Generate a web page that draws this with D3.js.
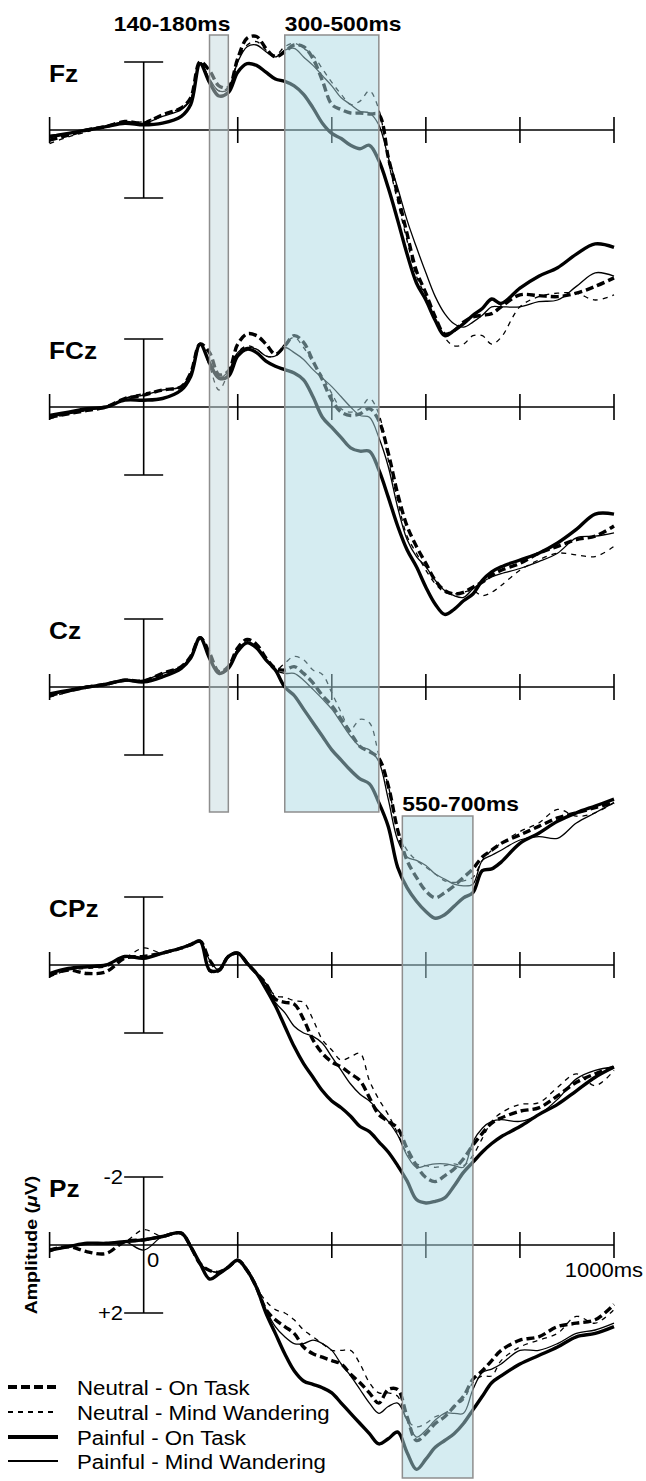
<!doctype html>
<html>
<head>
<meta charset="utf-8">
<style>
  body { margin: 0; background: #fff; }
  svg { display: block; font-family: "Liberation Sans", Arial, Helvetica, sans-serif; }
</style>
<script src="https://d3js.org/d3.v7.min.js"></script>
</head>
<body>
<svg width="646" height="1481"></svg>
<script>
// sample times (ms)
var times = [-200,-160,-120,-80,-40,0,40,80,100,120,140,160,180,200,220,240,260,280,300,320,340,360,380,400,420,440,460,480,500,520,540,560,580,600,620,640,660,680,700,720,740,760,800,840,880,920,960,1000];

var conditions = ["Neutral - On Task", "Neutral - Mind Wandering", "Painful - On Task", "Painful - Mind Wandering"];
var electrodes = ["Fz", "FCz", "Cz", "CPz", "Pz"];

// amplitudes in microvolts, one row per condition (same order as conditions)
var fz = [
  [0.3,0.15,0,-0.1,-0.25,-0.2,-0.45,-0.65,-0.95,-2.0, -1.75,-1.3,-1.25,-2.1,-2.7,-2.75,-2.4,-2.15,-2.3,-2.5, -2.45,-2.1,-1.45,-0.75,-0.6,-0.5,-0.5,-0.47,-0.45,0.8, 1.9,3.05,4.15,4.8,5.5,6.0,5.9,5.65,5.5,5.45, 5.4,5.2,4.85,4.87,4.9,4.8,4.6,4.35],
  [0.4,0.2,0.05,-0.1,-0.2,-0.25,-0.45,-0.65,-0.9,-2.0, -1.5,-1.15,-1.25,-2.05,-2.5,-2.6,-2.35,-2.2,-2.45,-2.55, -2.4,-2.2,-1.8,-1.4,-1.05,-0.75,-0.85,-1.15,-0.6,0.9, 2.1,3.25,4.3,4.9,5.5,6.1,6.35,6.3,6.05,6.05, 6.3,6.1,5.2,4.9,4.8,4.8,5.0,4.85],
  [0.2,0.1,0,-0.1,-0.2,-0.15,-0.2,-0.4,-0.75,-1.95, -1.4,-1.0,-1.1,-1.7,-1.95,-1.9,-1.7,-1.5,-1.43,-1.3, -1.05,-0.65,-0.2,0.1,0.25,0.45,0.55,0.45,0.9,1.7, 2.65,3.65,4.5,5.0,5.6,6.05,5.9,5.7,5.45,5.25, 4.97,5.1,4.65,4.3,4.05,3.65,3.35,3.45],
  [0.15,0.1,0,-0.1,-0.25,-0.2,-0.4,-0.6,-0.9,-1.95, -1.5,-1.15,-1.2,-2.0,-2.45,-2.5,-2.3,-2.15,-2.35,-2.4, -2.15,-1.9,-1.6,-1.3,-0.95,-0.75,-0.55,-0.5,-0.15,0.8, 1.7,2.65,3.45,4.2,4.9,5.4,5.7,5.8,5.65,5.45, 5.2,5.2,5.2,5.05,5.0,4.6,4.2,4.3]
];
var fcz = [
  [0.3,0.2,0.1,0,-0.25,-0.35,-0.5,-0.6,-1.0,-1.85, -1.6,-0.95,-1.05,-1.85,-2.15,-2.1,-1.85,-1.55,-1.8,-2.1, -1.9,-1.35,-0.8,-0.2,0.15,0.25,0.2,0.05,0.4,1.35, 2.55,3.5,4.1,4.6,5.1,5.4,5.5,5.45,5.3,5.15, 4.95,4.8,4.6,4.3,4.1,3.9,3.8,3.5],
  [0.35,0.2,0.1,0,-0.25,-0.4,-0.5,-0.6,-1.0,-1.85, -1.2,-0.5,-1.0,-1.6,-1.8,-1.7,-1.5,-1.5,-1.85,-2.05, -1.75,-1.3,-0.9,-0.4,0.05,0.15,0.05,-0.25,0.2,1.55, 2.75,3.8,4.3,4.8,5.2,5.45,5.5,5.45,5.4,5.55, 5.45,5.25,4.8,4.5,4.3,4.35,4.4,4.1],
  [0.25,0.15,0.05,0,-0.2,-0.2,-0.25,-0.5,-0.9,-1.85, -1.3,-0.85,-0.9,-1.5,-1.7,-1.6,-1.35,-1.2,-1.1,-1.0, -0.8,-0.3,0.3,0.6,0.9,1.2,1.3,1.3,1.85,2.65, 3.5,4.2,4.7,5.3,5.8,6.1,5.95,5.7,5.5,5.1, 4.85,4.7,4.5,4.3,4.0,3.6,3.15,3.15],
  [0.3,0.2,0.1,0,-0.25,-0.35,-0.5,-0.6,-1.0,-1.85, -1.3,-0.85,-1.05,-1.6,-1.75,-1.7,-1.5,-1.5,-1.75,-1.6, -1.4,-1.1,-0.85,-0.6,-0.3,0,0.25,0.3,0.9,1.75, 2.95,3.9,4.4,4.7,5.1,5.4,5.55,5.6,5.35,5.15, 5.0,4.9,4.75,4.55,4.3,3.85,3.8,3.7]
];
var cz = [
  [0.25,0.12,0,-0.08,-0.2,-0.18,-0.4,-0.6,-0.9,-1.45, -1.0,-0.45,-0.6,-1.15,-1.4,-1.25,-0.85,-0.55,-0.5,-0.6, -0.4,-0.12,0.25,0.55,0.95,1.35,1.75,1.9,2.1,2.9, 4.2,5.1,5.6,6.0,6.2,6.05,5.85,5.6,5.35,5.0, 4.8,4.6,4.35,4.1,3.85,3.7,3.55,3.4],
  [0.3,0.15,0,-0.08,-0.2,-0.2,-0.4,-0.6,-0.9,-1.45, -0.9,-0.4,-0.6,-1.1,-1.3,-1.15,-0.8,-0.5,-0.7,-0.9, -0.8,-0.5,-0.37,0.17,0.75,1.25,0.95,1.05,2.0,2.9, 4.2,4.8,5.1,5.3,5.5,5.7,5.75,5.7,5.6,5.1, 4.8,4.6,4.25,4.0,3.6,3.8,3.7,3.4],
  [0.2,0.1,0,-0.08,-0.2,-0.15,-0.3,-0.55,-0.85,-1.45, -0.85,-0.4,-0.55,-1.05,-1.3,-1.15,-0.8,-0.5,0,0.25, 0.65,1.05,1.45,1.85,2.15,2.45,2.7,2.85,3.4,4.1, 5.3,5.9,6.3,6.6,6.8,6.7,6.45,6.2,6.05,5.4, 5.35,5.15,4.6,4.3,3.95,3.7,3.5,3.3],
  [0.25,0.1,0,-0.08,-0.2,-0.2,-0.4,-0.6,-0.9,-1.45, -0.9,-0.42,-0.6,-1.1,-1.3,-1.15,-0.8,-0.5,-0.4,-0.4, -0.2,0.07,0.35,0.65,1.05,1.45,1.75,1.85,2.2,3.3, 4.5,5.0,5.1,5.25,5.5,5.65,5.8,5.85,5.8,5.1, 4.95,4.8,4.5,4.4,4.45,4.0,3.7,3.4]
];
var cpz = [
  [0.3,0.15,0.25,0.2,-0.2,-0.25,-0.35,-0.5,-0.6,-0.7, -0.15,0.15,-0.25,-0.35,-0.05,0.25,0.55,1.0,1.1,1.15, 1.6,2.2,2.6,2.85,3.0,3.2,3.4,3.9,4.4,4.6, 4.8,5.4,5.9,6.25,6.37,6.2,6.0,5.7,5.3,4.95, 4.65,4.5,4.3,4.2,3.85,3.45,3.2,3.0],
  [0.35,0.15,0.1,0.05,-0.2,-0.5,-0.35,-0.5,-0.6,-0.7, 0.2,0.2,-0.25,-0.35,-0.05,0.25,0.55,0.9,0.95,1.05, 1.1,1.6,2.2,2.5,2.8,2.7,2.6,3.4,3.95,4.4, 4.95,5.55,5.85,5.9,5.95,5.9,5.85,5.9,5.6,5.1, 4.6,4.35,4.1,4.05,3.6,3.2,3.55,3.1],
  [0.25,0.1,0.05,0,-0.25,-0.2,-0.35,-0.5,-0.6,-0.7, 0.15,0.15,-0.25,-0.35,-0.05,0.25,0.7,1.2,1.8,2.4, 2.9,3.3,3.7,4.0,4.2,4.45,4.75,4.9,5.2,5.5, 5.9,6.35,6.9,7.0,6.95,6.85,6.5,6.1,5.8,5.5, 5.25,5.05,4.75,4.4,4.1,3.7,3.3,3.0],
  [0.25,0.1,0.05,0,-0.25,-0.2,-0.35,-0.5,-0.6,-0.7, -0.15,0.15,-0.25,-0.35,-0.05,0.25,0.55,1.1,1.4,1.8, 2.0,2.1,2.3,2.7,3.1,3.5,3.8,4.0,4.3,4.6, 5.0,5.6,5.95,5.9,5.85,5.85,5.9,5.95,5.2,4.8, 4.6,4.55,4.6,4.4,3.95,3.35,3.1,3.0]
];
var pz = [
  [0.15,0.05,0.2,0.25,-0.1,-0.15,-0.25,-0.35,0.05,0.55, 0.75,0.8,0.65,0.45,0.75,1.25,1.9,2.2,2.4,2.6, 3.0,3.2,3.3,3.4,3.5,3.8,4.05,4.35,4.65,4.25, 4.25,5.05,5.75,5.55,5.25,5.05,4.75,4.45,3.95,3.7, 3.4,3.1,2.8,2.7,2.4,2.3,2.2,1.75],
  [0.2,0.05,-0.05,-0.05,-0.1,-0.45,-0.25,-0.35,0.05,0.55, 0.75,0.8,0.65,0.45,0.75,1.25,1.65,1.9,2.0,2.2, 2.5,2.7,2.9,3.1,3.1,3.1,3.5,4.05,4.35,4.35, 4.45,5.15,5.35,5.25,5.05,4.95,4.75,4.55,4.05,3.85, 3.85,3.4,3.0,2.8,2.6,2.1,2.3,1.9],
  [0.15,0.05,-0.05,-0.05,-0.1,-0.15,-0.25,-0.35,0.05,0.55, 1.0,0.85,0.65,0.45,0.75,1.25,2.0,2.6,3.2,3.7, 4.0,4.1,4.2,4.35,4.65,4.95,5.25,5.55,5.85,5.7, 5.5,6.1,6.6,6.3,5.95,5.75,5.55,5.25,4.85,4.45, 4.05,3.85,3.5,3.25,3.0,2.7,2.6,2.4],
  [0.15,0.05,-0.05,-0.05,-0.1,0.15,-0.25,-0.35,0.05,0.55, 0.75,0.8,0.65,0.45,0.75,1.25,1.9,2.4,2.7,2.9, 2.9,2.8,2.9,3.1,3.5,3.85,4.25,4.65,4.95,4.75, 4.65,5.15,5.65,5.45,5.15,4.95,4.95,4.95,4.25,3.75, 3.65,3.5,3.1,3.1,2.9,2.6,2.5,2.3]
];
var waves = [fz, fcz, cz, cpz, pz];

var xTicks = [-200, 200, 400, 600, 800, 1000];
var windows = [
  { label: "140-180ms", from: 140, to: 180 },
  { label: "300-500ms", from: 300, to: 500 },
  { label: "550-700ms", from: 550, to: 700 }
];

var svg = d3.select("svg");
var x = d3.scaleLinear().domain([-200, 1000]).range([49.6, 614]);
var baselines = [130, 407, 687, 965, 1245];

// line styles per condition
var styles = [
  { w: 3.4, dash: "8,4" },
  { w: 1.3, dash: "5,5" },
  { w: 3.4, dash: null },
  { w: 1.3, dash: null }
];

var gAxes = svg.append("g"), gLines = svg.append("g"), gBoxes = svg.append("g"), gText = svg.append("g");
var yScales = [];

electrodes.forEach(function(name, i) {
  var base = baselines[i];
  var y = d3.scaleLinear().domain([-2, 2]).range([base - 68, base + 68]);
  yScales.push(y);

  var g = gAxes.append("g").attr("stroke", "#000").attr("stroke-width", 1.6);
  g.append("line").attr("x1", x(-200)).attr("x2", x(1000)).attr("y1", y(0)).attr("y2", y(0));
  g.selectAll(".tick").data(xTicks).enter().append("line")
    .attr("x1", function(d) { return x(d); }).attr("x2", function(d) { return x(d); })
    .attr("y1", y(0) - 13).attr("y2", y(0) + 13);
  // amplitude bar
  g.append("line").attr("x1", x(0)).attr("x2", x(0)).attr("y1", y(-2)).attr("y2", y(2));
  [-2, 2].forEach(function(v) {
    g.append("line").attr("x1", x(0) - 19.5).attr("x2", x(0) + 19.5).attr("y1", y(v)).attr("y2", y(v));
  });

  var line = d3.line()
    .x(function(d, j) { return x(times[j]); })
    .y(function(d) { return y(d); })
    .curve(d3.curveCatmullRom.alpha(0.5));

  // thin lines first, thick on top
  [1, 3, 0, 2].forEach(function(c) {
    gLines.append("path")
      .attr("d", line(waves[i][c]))
      .attr("fill", "none")
      .attr("stroke", "#000")
      .attr("stroke-width", styles[c].w)
      .attr("stroke-linejoin", "round")
      .attr("stroke-dasharray", styles[c].dash);
  });

  gText.append("text")
    .attr("transform", "translate(49," + (base - 48) + ") scale(1.14,1)")
    .attr("font-size", 23).attr("font-weight", "bold")
    .text(name);
});

// time windows, drawn over the traces so they tint them
var boxY = [[35, 812], [35, 812], [816, 1478]];
var boxFill = ["rgb(196,218,222)", "rgb(171,217,227)", "rgb(171,217,227)"];
windows.forEach(function(w, k) {
  gBoxes.append("rect")
    .attr("x", x(w.from)).attr("width", x(w.to) - x(w.from))
    .attr("y", boxY[k][0]).attr("height", boxY[k][1] - boxY[k][0])
    .attr("fill", boxFill[k]).attr("fill-opacity", 0.5)
    .attr("stroke", "#8e8e8e").attr("stroke-width", 1.5);
});

gText.append("text").attr("transform", "translate(" + (x(180) + 2) + ",31) scale(1.14,1)")
  .attr("text-anchor", "end").attr("font-size", 20).attr("font-weight", "bold").text(windows[0].label);
gText.append("text").attr("transform", "translate(" + x(300) + ",31) scale(1.14,1)")
  .attr("font-size", 20).attr("font-weight", "bold").text(windows[1].label);
gText.append("text").attr("transform", "translate(" + x(550) + ",811) scale(1.14,1)")
  .attr("font-size", 20).attr("font-weight", "bold").text(windows[2].label);

// scale labels on Pz
var yp = yScales[4];
gText.append("text").attr("transform", "translate(123," + (yp(-2) + 7) + ") scale(1.1,1)")
  .attr("text-anchor", "end").attr("font-size", 20).text("-2");
gText.append("text").attr("transform", "translate(123," + (yp(2) + 7) + ") scale(1.1,1)")
  .attr("text-anchor", "end").attr("font-size", 20).text("+2");
gText.append("text").attr("transform", "translate(147," + (yp(0) + 22) + ") scale(1.1,1)")
  .attr("font-size", 20).text("0");
gText.append("text").attr("transform", "translate(643," + (yp(0) + 32) + ") scale(1.1,1)")
  .attr("text-anchor", "end").attr("font-size", 20).text("1000ms");

var amp = gText.append("text")
  .attr("transform", "translate(37," + yp(0) + ") rotate(-90) scale(1.15,1)")
  .attr("text-anchor", "middle").attr("font-size", 17).attr("font-weight", "bold");
amp.append("tspan").text("Amplitude (");
amp.append("tspan").attr("font-style", "italic").text("\u03bc");
amp.append("tspan").text("V)");

// legend
var legendY = [1387, 1412, 1437, 1461];
var lg = svg.append("g");
conditions.forEach(function(c, k) {
  lg.append("line")
    .attr("x1", 8).attr("x2", 58).attr("y1", legendY[k]).attr("y2", legendY[k])
    .attr("stroke", "#000").attr("stroke-width", styles[k].w + 0.8)
    .attr("stroke-dasharray", k === 0 ? "9,4" : styles[k].dash);
  lg.append("text")
    .attr("transform", "translate(77," + (legendY[k] + 7.5) + ") scale(1.06,1)")
    .attr("font-size", 21).text(c);
});
</script>
</body>
</html>
